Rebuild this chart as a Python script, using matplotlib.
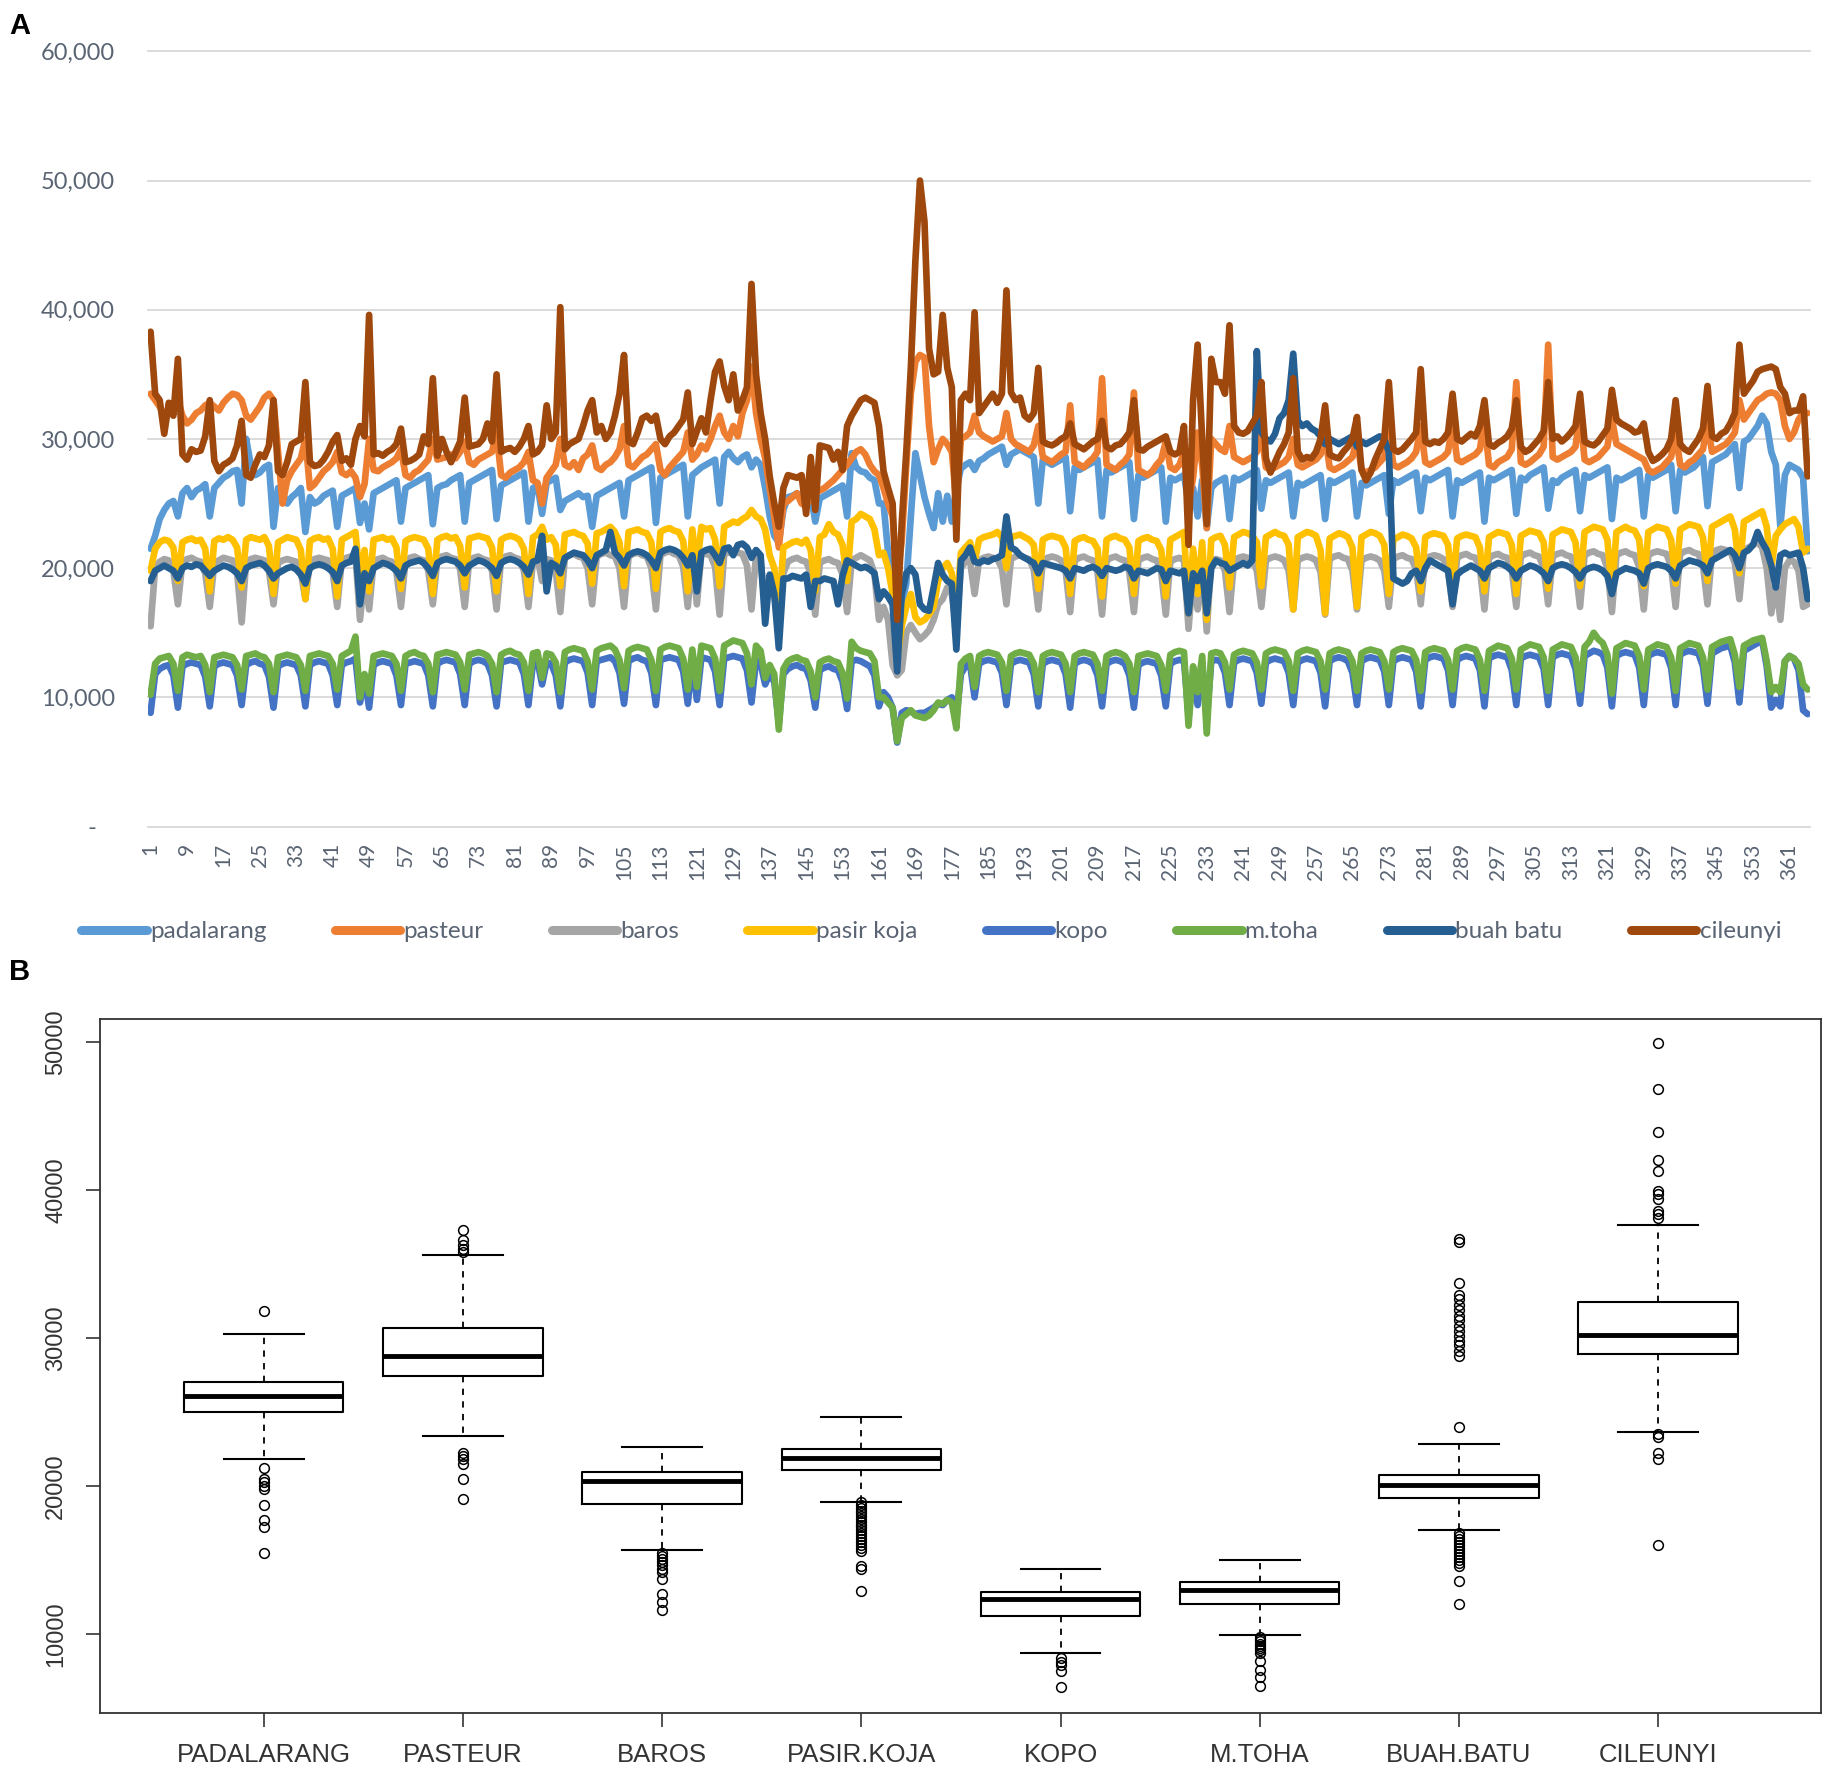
import matplotlib.pyplot as plt
import numpy as np

plt.rcParams['font.family'] = ['Lato', 'DejaVu Sans']

# daily traffic per toll gate, day 1..365, in hundreds of vehicles (one week per row)
padalarang = [
    215, 225, 238, 245, 250, 252, 240,
    258, 262, 255, 260, 262, 265, 240,
    262, 266, 270, 272, 275, 276, 250,
    300, 280, 272, 274, 278, 280, 232,
    262, 258, 250, 255, 258, 262, 228,
    255, 250, 252, 256, 258, 260, 232,
    256, 258, 260, 262, 235, 250, 230,
    258, 260, 262, 264, 266, 268, 236,
    262, 264, 266, 268, 270, 272, 234,
    262, 264, 265, 268, 270, 272, 236,
    266, 268, 270, 272, 274, 276, 238,
    264, 266, 268, 270, 272, 274, 236,
    262, 264, 242, 266, 268, 270, 245,
    252, 254, 256, 258, 255, 256, 232,
    256, 258, 260, 262, 264, 266, 240,
    268, 270, 272, 274, 276, 278, 235,
    270, 272, 274, 276, 278, 280, 240,
    272, 275, 278, 280, 282, 284, 250,
    286, 290, 285, 282, 286, 288, 278,
    284, 280, 262, 240, 225, 220, 245,
    255, 256, 258, 254, 256, 258, 236,
    254, 256, 258, 260, 262, 264, 240,
    289, 278, 275, 274, 270, 268, 250,
    250, 212, 201, 156, 172, 188, 240,
    289, 272, 255, 242, 231, 258, 236,
    256, 236, 262, 277, 280, 282, 276,
    283, 285, 288, 290, 292, 294, 280,
    288, 290, 292, 290, 288, 286, 250,
    284, 282, 280, 282, 284, 286, 244,
    278, 276, 278, 280, 282, 284, 240,
    276, 274, 276, 278, 280, 282, 238,
    272, 270, 272, 274, 276, 278, 236,
    270, 268, 270, 272, 250, 262, 240,
    268, 231, 262, 266, 268, 270, 238,
    270, 268, 270, 272, 274, 276, 246,
    268, 266, 268, 270, 272, 274, 240,
    266, 264, 266, 268, 270, 272, 238,
    268, 266, 268, 270, 272, 274, 240,
    266, 264, 266, 268, 270, 272, 242,
    268, 266, 268, 270, 272, 274, 244,
    270, 268, 270, 272, 274, 276, 240,
    268, 266, 268, 270, 272, 274, 236,
    270, 268, 270, 272, 274, 276, 242,
    270, 268, 272, 274, 276, 278, 246,
    268, 266, 270, 272, 274, 276, 244,
    272, 270, 272, 274, 276, 278, 238,
    270, 268, 270, 272, 274, 276, 240,
    272, 270, 272, 274, 276, 280, 244,
    276, 274, 276, 278, 282, 286, 248,
    282, 284, 286, 288, 292, 296, 262,
    298, 300, 305, 310, 318, 312, 290,
    280, 232, 272, 280, 278, 276, 270,
    213]

pasteur = [
    335, 330, 325, 318, 322, 328, 330,
    318, 312, 315, 320, 322, 326, 328,
    325, 322, 328, 332, 335, 334, 330,
    318, 315, 320, 325, 332, 335, 330,
    290, 250, 268, 275, 280, 285, 300,
    262, 265, 270, 275, 278, 282, 290,
    274, 272, 275, 270, 255, 265, 300,
    276, 275, 278, 280, 282, 285, 292,
    272, 270, 274, 276, 280, 284, 300,
    284, 285, 286, 288, 285, 290, 298,
    282, 280, 284, 286, 288, 290, 305,
    272, 270, 274, 276, 278, 282, 290,
    268, 266, 250, 270, 275, 280, 300,
    280, 278, 282, 276, 285, 288, 295,
    278, 276, 280, 282, 286, 292, 310,
    280, 278, 282, 286, 288, 292, 296,
    276, 272, 278, 282, 286, 290, 305,
    284, 288, 295, 292, 300, 310, 318,
    305, 300, 310, 302, 320, 330, 356,
    320, 300, 285, 262, 240, 216, 250,
    252, 255, 258, 250, 248, 255, 262,
    260, 262, 265, 268, 272, 276, 280,
    285, 290, 292, 288, 280, 275, 272,
    262, 250, 240, 191, 221, 280, 335,
    360, 365, 363, 310, 282, 292, 300,
    296, 290, 250, 300, 302, 305, 318,
    305, 302, 300, 298, 300, 302, 320,
    300, 296, 294, 292, 290, 295, 310,
    286, 284, 282, 285, 288, 290, 326,
    282, 280, 278, 282, 285, 290, 347,
    280, 278, 276, 280, 283, 288, 336,
    276, 274, 272, 275, 280, 284, 298,
    278, 276, 280, 290, 250, 270, 305,
    280, 231, 300, 296, 292, 290, 310,
    286, 284, 282, 284, 286, 290, 305,
    278, 276, 278, 280, 282, 286, 300,
    280, 278, 280, 282, 284, 288, 302,
    278, 276, 278, 280, 283, 286, 300,
    276, 274, 276, 278, 282, 286, 305,
    280, 278, 280, 282, 285, 290, 310,
    282, 280, 282, 284, 286, 290, 312,
    284, 282, 284, 286, 288, 292, 314,
    280, 278, 282, 284, 286, 292, 344,
    282, 280, 282, 285, 288, 294, 373,
    286, 284, 286, 288, 290, 294, 320,
    284, 282, 284, 286, 290, 294, 316,
    296, 294, 292, 290, 288, 286, 284,
    276, 274, 276, 278, 282, 286, 305,
    280, 278, 282, 284, 288, 292, 312,
    290, 292, 294, 296, 300, 305, 330,
    315, 320, 325, 330, 332, 335, 336,
    335, 330, 310, 300, 305, 315, 320,
    320]

baros = [
    155, 200, 205, 207, 206, 198, 172,
    205, 207, 208, 206, 205, 196, 170,
    204, 206, 208, 207, 206, 197, 158,
    205, 207, 208, 207, 206, 198, 172,
    204, 206, 207, 206, 205, 197, 176,
    205, 207, 208, 207, 206, 197, 170,
    206, 208, 209, 210, 160, 196, 168,
    205, 207, 208, 206, 205, 197, 170,
    206, 208, 209, 207, 206, 198, 172,
    207, 209, 210, 208, 207, 199, 170,
    206, 208, 209, 207, 206, 198, 168,
    207, 209, 210, 208, 207, 198, 170,
    206, 208, 190, 207, 206, 198, 166,
    208, 210, 211, 209, 208, 200, 172,
    209, 211, 212, 210, 209, 200, 170,
    209, 211, 212, 210, 209, 200, 168,
    210, 212, 213, 211, 210, 201, 170,
    210, 172, 212, 211, 210, 201, 164,
    211, 212, 213, 212, 211, 202, 168,
    210, 206, 170, 190, 180, 150, 196,
    205, 207, 208, 206, 205, 196, 164,
    204, 206, 207, 205, 204, 195, 166,
    206, 208, 210, 208, 206, 196, 160,
    170, 160, 125, 117, 121, 150, 156,
    150, 145, 148, 152, 160, 172, 176,
    185, 180, 154, 200, 205, 206, 180,
    206, 208, 209, 208, 207, 200, 172,
    207, 209, 210, 208, 207, 199, 168,
    206, 208, 209, 208, 206, 198, 166,
    206, 208, 209, 207, 206, 197, 164,
    206, 208, 209, 207, 206, 197, 166,
    206, 208, 209, 207, 206, 197, 164,
    205, 207, 208, 206, 153, 196, 168,
    204, 151, 206, 207, 206, 198, 166,
    206, 208, 209, 208, 206, 198, 170,
    206, 208, 209, 208, 206, 198, 168,
    206, 208, 209, 208, 206, 197, 164,
    207, 209, 210, 208, 207, 198, 168,
    206, 208, 209, 208, 206, 198, 170,
    207, 209, 210, 208, 207, 199, 172,
    207, 209, 210, 209, 207, 199, 170,
    208, 210, 211, 209, 208, 200, 168,
    208, 210, 211, 209, 208, 199, 170,
    209, 211, 212, 210, 209, 200, 172,
    209, 211, 212, 210, 209, 200, 170,
    210, 212, 213, 211, 210, 200, 166,
    210, 212, 213, 211, 210, 201, 168,
    210, 212, 213, 212, 211, 201, 170,
    211, 213, 214, 212, 211, 202, 172,
    212, 214, 215, 214, 213, 204, 176,
    214, 216, 218, 220, 216, 200, 165,
    190, 160, 200, 206, 205, 198, 170,
    172]

pasir_koja = [
    198, 215, 220, 222, 221, 216, 190,
    220, 222, 223, 221, 222, 215, 182,
    221, 223, 222, 224, 222, 216, 185,
    222, 224, 223, 222, 224, 217, 180,
    220, 222, 224, 223, 222, 214, 176,
    221, 223, 224, 222, 223, 215, 178,
    222, 224, 226, 228, 190, 214, 182,
    222, 223, 224, 222, 223, 216, 184,
    221, 223, 224, 223, 222, 215, 180,
    222, 224, 225, 223, 224, 217, 185,
    223, 224, 225, 224, 223, 216, 182,
    222, 224, 225, 224, 222, 215, 180,
    224, 226, 232, 222, 224, 218, 186,
    226, 227, 228, 226, 225, 219, 188,
    227, 228, 230, 232, 228, 220, 186,
    228, 229, 230, 228, 227, 220, 184,
    228, 230, 231, 229, 228, 221, 182,
    230, 200, 232, 230, 231, 222, 186,
    232, 234, 236, 235, 238, 240, 245,
    240, 238, 230, 210, 200, 165, 216,
    218, 220, 221, 219, 222, 214, 182,
    224, 226, 234, 228, 226, 218, 190,
    236, 238, 242, 240, 238, 230, 210,
    212, 200, 180, 130, 155, 170, 180,
    162, 158, 160, 164, 170, 190, 200,
    204, 196, 165, 212, 216, 220, 205,
    222, 224, 225, 226, 228, 224, 200,
    224, 225, 226, 224, 222, 218, 184,
    222, 224, 225, 224, 223, 216, 180,
    221, 223, 224, 222, 221, 215, 178,
    222, 224, 225, 223, 222, 216, 180,
    221, 223, 224, 222, 221, 214, 178,
    222, 224, 226, 228, 165, 215, 180,
    220, 160, 222, 224, 225, 218, 185,
    224, 226, 228, 227, 225, 220, 186,
    224, 226, 228, 226, 225, 218, 168,
    224, 226, 228, 227, 225, 214, 165,
    223, 225, 227, 226, 224, 216, 170,
    224, 226, 228, 227, 225, 218, 180,
    222, 224, 226, 225, 223, 216, 182,
    224, 226, 227, 226, 225, 218, 184,
    223, 225, 226, 225, 224, 216, 182,
    224, 226, 228, 227, 226, 218, 180,
    225, 227, 229, 228, 227, 220, 184,
    226, 228, 230, 229, 228, 220, 186,
    228, 230, 232, 231, 230, 222, 182,
    228, 230, 232, 230, 229, 222, 186,
    228, 230, 232, 231, 230, 222, 188,
    230, 232, 234, 233, 232, 224, 190,
    232, 234, 236, 238, 240, 230, 196,
    236, 238, 240, 242, 244, 232, 200,
    225, 230, 234, 236, 238, 232, 212,
    215]

kopo = [
    88, 118, 122, 124, 125, 117, 92,
    124, 126, 127, 126, 125, 116, 93,
    124, 126, 127, 126, 125, 117, 94,
    125, 127, 128, 126, 125, 116, 92,
    124, 126, 127, 126, 125, 117, 93,
    125, 127, 128, 127, 126, 117, 94,
    125, 127, 128, 130, 96, 115, 92,
    125, 127, 128, 127, 126, 117, 94,
    126, 127, 128, 127, 126, 117, 93,
    126, 128, 129, 128, 127, 118, 94,
    126, 128, 129, 128, 126, 117, 93,
    127, 128, 129, 128, 127, 118, 94,
    127, 128, 110, 127, 126, 117, 93,
    127, 129, 130, 129, 128, 119, 94,
    128, 129, 130, 131, 128, 119, 95,
    128, 130, 131, 129, 128, 119, 94,
    129, 130, 131, 130, 129, 120, 95,
    129, 98, 131, 130, 129, 120, 94,
    130, 131, 132, 131, 130, 121, 96,
    129, 126, 110, 118, 112, 80, 118,
    122, 124, 125, 123, 122, 113, 92,
    121, 123, 124, 122, 121, 112, 91,
    128, 129, 128, 126, 124, 117, 93,
    104, 100, 92, 65, 88, 90, 89,
    87, 88, 88, 90, 92, 95, 94,
    98, 100, 84, 118, 124, 126, 100,
    126, 128, 129, 128, 127, 119, 94,
    126, 128, 129, 128, 127, 118, 93,
    126, 128, 129, 128, 127, 118, 92,
    126, 128, 129, 128, 126, 117, 93,
    126, 128, 129, 128, 126, 117, 92,
    125, 127, 128, 127, 126, 117, 93,
    126, 128, 129, 128, 86, 117, 94,
    126, 83, 128, 129, 128, 119, 94,
    127, 129, 130, 129, 128, 119, 95,
    127, 129, 130, 129, 128, 119, 94,
    127, 129, 130, 129, 128, 119, 93,
    128, 130, 131, 130, 128, 119, 94,
    128, 130, 131, 130, 129, 120, 94,
    128, 130, 131, 130, 129, 120, 93,
    129, 131, 132, 131, 130, 121, 94,
    129, 131, 132, 131, 130, 121, 93,
    130, 132, 133, 132, 131, 121, 94,
    130, 132, 133, 132, 131, 122, 94,
    131, 133, 134, 133, 132, 122, 95,
    132, 134, 136, 135, 133, 123, 93,
    132, 134, 135, 134, 133, 123, 94,
    132, 134, 135, 134, 133, 123, 94,
    133, 135, 136, 135, 134, 124, 95,
    134, 136, 138, 139, 140, 127, 96,
    136, 138, 140, 142, 144, 124, 92,
    98, 93, 128, 132, 130, 121, 90,
    87]

m_toha = [
    102, 126, 130, 131, 132, 126, 105,
    131, 133, 132, 131, 132, 125, 104,
    131, 132, 133, 132, 131, 125, 106,
    132, 133, 134, 132, 131, 126, 104,
    131, 132, 133, 132, 131, 125, 105,
    132, 133, 134, 133, 132, 126, 106,
    132, 134, 136, 147, 100, 118, 103,
    132, 133, 134, 133, 132, 126, 105,
    132, 134, 135, 133, 132, 126, 104,
    133, 134, 135, 134, 133, 127, 106,
    133, 134, 135, 134, 132, 126, 104,
    133, 135, 136, 134, 133, 127, 105,
    134, 135, 115, 134, 133, 127, 104,
    135, 137, 138, 137, 136, 128, 106,
    136, 138, 139, 140, 137, 129, 107,
    136, 138, 139, 138, 137, 129, 105,
    137, 139, 140, 139, 138, 130, 106,
    137, 108, 140, 139, 138, 130, 105,
    140, 142, 144, 143, 142, 134, 110,
    140, 136, 115, 125, 118, 75, 122,
    128, 130, 131, 129, 128, 120, 100,
    127, 129, 130, 128, 127, 119, 99,
    143, 138, 136, 135, 134, 128, 100,
    100, 96, 92, 66, 84, 87, 90,
    86, 85, 84, 86, 90, 96, 95,
    98, 96, 76, 126, 130, 132, 108,
    132, 134, 135, 134, 133, 127, 105,
    132, 134, 135, 134, 133, 126, 104,
    132, 134, 135, 134, 133, 126, 104,
    132, 134, 135, 134, 133, 126, 105,
    132, 134, 135, 134, 132, 126, 104,
    132, 133, 134, 133, 132, 125, 105,
    133, 135, 136, 135, 78, 124, 104,
    132, 72, 134, 135, 134, 127, 106,
    133, 135, 136, 135, 134, 127, 106,
    134, 136, 137, 136, 135, 128, 105,
    134, 136, 137, 136, 135, 128, 106,
    134, 136, 137, 136, 135, 128, 105,
    134, 136, 137, 136, 135, 128, 106,
    135, 137, 138, 137, 136, 129, 105,
    135, 137, 138, 137, 136, 129, 106,
    136, 138, 139, 138, 137, 129, 105,
    136, 138, 140, 139, 138, 130, 106,
    137, 139, 141, 140, 139, 131, 105,
    137, 139, 141, 140, 139, 131, 106,
    139, 143, 150, 145, 142, 133, 103,
    138, 140, 142, 141, 140, 132, 106,
    137, 139, 141, 140, 139, 131, 105,
    138, 140, 142, 141, 140, 131, 106,
    139, 141, 143, 144, 145, 133, 108,
    140, 142, 144, 145, 146, 128, 104,
    108, 104, 128, 132, 130, 126, 110,
    106]

buah_batu = [
    190, 198, 200, 202, 200, 198, 192,
    200, 202, 201, 203, 202, 198, 194,
    198, 200, 202, 201, 199, 196, 190,
    200, 202, 203, 204, 202, 198, 192,
    196, 198, 200, 201, 199, 195, 188,
    200, 202, 203, 202, 200, 197, 190,
    202, 204, 205, 215, 172, 196, 190,
    200, 202, 204, 203, 201, 198, 192,
    202, 204, 205, 206, 204, 200, 194,
    204, 206, 207, 206, 205, 202, 196,
    202, 204, 206, 205, 203, 200, 194,
    204, 206, 207, 206, 204, 201, 195,
    205, 206, 225, 182, 204, 202, 196,
    208, 210, 212, 211, 210, 206, 200,
    210, 212, 214, 228, 212, 208, 202,
    210, 212, 213, 212, 210, 206, 200,
    212, 214, 215, 214, 212, 208, 202,
    210, 182, 212, 214, 215, 210, 204,
    215, 216, 210, 218, 219, 216, 208,
    214, 210, 157, 195, 180, 138, 192,
    192, 194, 193, 192, 195, 170, 190,
    190, 192, 191, 190, 172, 194, 206,
    204, 202, 200, 201, 199, 196, 176,
    182, 178, 172, 120, 180, 196, 200,
    195, 172, 168, 167, 185, 204, 195,
    190, 188, 137, 206, 210, 216, 205,
    204, 206, 205, 207, 208, 210, 240,
    216, 214, 210, 208, 206, 204, 196,
    204, 203, 202, 201, 200, 198, 192,
    200, 199, 198, 200, 201, 199, 194,
    200, 199, 198, 199, 201, 200, 192,
    198, 197, 196, 198, 200, 199, 190,
    198, 197, 196, 198, 165, 196, 190,
    198, 165, 200, 206, 204, 203, 198,
    200, 202, 204, 202, 206, 368, 305,
    300, 298, 304, 316, 320, 330, 366,
    314, 310, 312, 308, 306, 302, 296,
    300, 298, 296, 298, 300, 302, 294,
    298, 296, 298, 300, 302, 300, 290,
    192, 190, 188, 190, 196, 198, 190,
    200, 206, 204, 202, 200, 198, 172,
    195, 198, 200, 202, 200, 198, 192,
    200, 202, 204, 203, 201, 198, 192,
    198, 200, 202, 201, 199, 196, 190,
    200, 202, 203, 202, 200, 197, 192,
    198, 200, 201, 200, 198, 194, 180,
    196, 198, 200, 199, 198, 196, 188,
    200, 202, 203, 202, 201, 198, 192,
    202, 204, 206, 205, 204, 202, 196,
    206, 208, 210, 212, 214, 210, 200,
    212, 214, 218, 228, 220, 214, 202,
    185, 210, 212, 210, 211, 212, 200,
    176]

cileunyi = [
    383, 335, 330, 304, 328, 318, 362,
    288, 284, 292, 290, 291, 302, 330,
    283, 275, 280, 282, 285, 295, 314,
    272, 270, 280, 288, 286, 295, 330,
    275, 272, 282, 296, 298, 300, 344,
    282, 279, 280, 284, 290, 298, 303,
    283, 285, 280, 300, 310, 302, 396,
    288, 289, 287, 290, 292, 296, 308,
    282, 283, 285, 288, 302, 296, 347,
    287, 300, 290, 282, 290, 298, 332,
    294, 295, 296, 300, 312, 298, 350,
    290, 292, 293, 290, 294, 300, 310,
    288, 290, 295, 326, 300, 305, 402,
    292, 296, 298, 300, 310, 322, 330,
    305, 310, 300, 305, 318, 335, 365,
    298, 296, 305, 316, 318, 314, 318,
    300, 296, 302, 305, 310, 315, 336,
    296, 306, 316, 305, 330, 352, 360,
    341, 330, 350, 322, 330, 340, 420,
    350, 320, 300, 271, 250, 232, 262,
    272, 271, 270, 272, 242, 286, 245,
    295, 294, 293, 284, 290, 276, 310,
    318, 324, 330, 332, 330, 328, 310,
    275, 262, 250, 160, 235, 290, 355,
    438, 500, 468, 370, 350, 352, 396,
    355, 340, 222, 330, 335, 330, 398,
    320, 325, 330, 335, 328, 335, 415,
    336, 330, 332, 318, 315, 320, 355,
    298, 296, 295, 297, 300, 302, 312,
    296, 294, 292, 295, 298, 300, 314,
    294, 292, 295, 296, 300, 305, 330,
    292, 291, 294, 296, 298, 300, 302,
    290, 288, 290, 310, 218, 330, 373,
    300, 234, 362, 344, 344, 335, 388,
    310, 305, 304, 306, 312, 318, 344,
    285, 274, 282, 290, 296, 305, 347,
    290, 284, 286, 285, 290, 300, 326,
    288, 286, 285, 290, 294, 300, 317,
    276, 268, 274, 284, 292, 300, 344,
    292, 290, 292, 296, 300, 305, 354,
    298, 296, 298, 297, 300, 305, 335,
    300, 298, 301, 304, 302, 310, 330,
    296, 294, 297, 299, 302, 308, 330,
    294, 290, 292, 296, 300, 306, 344,
    300, 302, 298, 301, 305, 310, 335,
    298, 296, 295, 298, 303, 308, 338,
    315, 312, 310, 308, 305, 306, 312,
    290, 283, 285, 288, 292, 300, 330,
    296, 292, 290, 295, 300, 308, 341,
    302, 300, 304, 306, 312, 320, 373,
    335, 340, 345, 352, 354, 355, 356,
    354, 340, 335, 320, 322, 322, 333,
    271]

names = ['padalarang', 'pasteur', 'baros', 'pasir koja', 'kopo', 'm.toha', 'buah batu', 'cileunyi']
colors = ['#5B9BD5', '#ED7D31', '#A5A5A5', '#FFC000', '#4472C4', '#70AD47', '#255E91', '#9E480E']

# panel B: boxplot summary per gate
box_labels = ['PADALARANG', 'PASTEUR', 'BAROS', 'PASIR.KOJA', 'KOPO', 'M.TOHA', 'BUAH.BATU', 'CILEUNYI']
box_whislo = [21800, 23400, 15700, 18950, 8700, 9950, 17000, 23650]
box_q1 = [25000, 27400, 18800, 21050, 11250, 12050, 19200, 28900]
box_med = [26100, 28750, 20350, 21900, 12400, 12950, 20100, 30200]
box_q3 = [27050, 30700, 20950, 22500, 12850, 13550, 20750, 32450]
box_whishi = [30300, 35600, 22650, 24650, 14400, 15000, 22850, 37600]
box_fliers = [
    [31800, 21200, 20500, 20300, 20000, 19800, 18700, 17700, 17200, 15500],
    [37300, 36600, 36300, 36000, 35800, 22200, 22000, 21800, 21500, 20500, 19100],
    [15500, 15300, 15100, 14900, 14700, 14400, 14200, 13700, 12700, 12200, 11600],
    [18900, 18700, 18500, 18300, 18150, 18000, 17800, 17600, 17400, 17200, 17000,
     16800, 16600, 16400, 16200, 16000, 15800, 15600, 14600, 14400, 12900],
    [8400, 8100, 7900, 7500, 6400],
    [9800, 9650, 9500, 9350, 9200, 9050, 8900, 8700, 8200, 7600, 7100, 6500],
    [36700, 36500, 33700, 32900, 32600, 32200, 31900, 31500, 31200, 30800, 30500,
     30100, 29800, 29500, 29100, 28800, 24000, 16800, 16600, 16400, 16200, 16000,
     15800, 15600, 15400, 15200, 15000, 14800, 14600, 13600, 12000],
    [49900, 46800, 43900, 42000, 41300, 39900, 39700, 39400, 38600, 38400, 38100,
     23500, 23300, 22200, 21800, 16000],
]

txt = '#5A6473'
fig = plt.figure(figsize=(18.31, 17.71), dpi=100)

# ---------------- panel A : daily lines ----------------
ax = fig.add_axes([0.081, 0.5333, 0.9075, 0.4377])
series = [padalarang, pasteur, baros, pasir_koja, kopo, m_toha, buah_batu, cileunyi]
for s, n, c in zip(series, names, colors):
    y = np.array(s) * 100
    ax.plot(np.arange(1, len(y) + 1), y, color=c, lw=4.8, label=n,
            solid_joinstyle='round', solid_capstyle='round')

yt = np.arange(0, 60001, 10000)
for v in yt:
    ax.axhline(v, color='#D9D9D9', lw=1.3, zorder=0, clip_on=False)
ax.set_xlim(0.5, 365.5)
ax.set_ylim(0, 60000)
ax.set_yticks(yt)
ax.set_yticklabels(['-   '] + [f'{int(v):,}' for v in yt[1:]], fontsize=17, color=txt)
days = np.arange(1, 366)
ax.set_xticks(days[::8])
ax.set_xticklabels([str(d) for d in days[::8]], rotation=90, fontsize=15, color=txt)
ax.tick_params(axis='y', length=0, pad=24)
ax.tick_params(axis='x', length=0, pad=12)
for sp in ax.spines.values():
    sp.set_visible(False)

leg = fig.legend(loc='center', bbox_to_anchor=(0.5086, 0.474), ncol=8, frameon=False,
                 fontsize=17.5, handlelength=2.7, handletextpad=0.13, columnspacing=2.8,
                 labelcolor=txt)
for h in leg.legend_handles:
    h.set_linewidth(6.5)

# ---------------- panel B : boxplots ----------------
bx = fig.add_axes([0.0548, 0.033, 0.940, 0.3915])
stats = []
for i in range(len(box_labels)):
    stats.append(dict(label=box_labels[i], whislo=box_whislo[i], q1=box_q1[i], med=box_med[i],
                      q3=box_q3[i], whishi=box_whishi[i], fliers=box_fliers[i]))
bx.bxp(stats, positions=range(1, 9), widths=0.8, capwidths=0.4,
       boxprops=dict(color='black', lw=1.5),
       medianprops=dict(color='black', lw=3.5),
       whiskerprops=dict(color='black', lw=1.3, linestyle=(0, (3.5, 3.5))),
       capprops=dict(color='black', lw=1.5),
       flierprops=dict(marker='o', markerfacecolor='none', markeredgecolor='black',
                       markersize=7, markeredgewidth=1.1))
bx.set_xlim(0.18, 8.82)
bx.set_ylim(4700, 51530)
bt = [10000, 20000, 30000, 40000, 50000]
bx.set_yticks(bt)
bx.set_yticklabels([str(v) for v in bt], rotation=90, va='center',
                   fontsize=17, family='Liberation Sans', color='#333333')
bx.set_xticks(range(1, 9))
bx.set_xticklabels(box_labels, fontsize=18.5, family='Liberation Sans', color='#333333')
bx.tick_params(direction='out', length=10, width=1.2, color='#333333')
bx.tick_params(axis='y', pad=14)
bx.tick_params(axis='x', pad=12)
for sp in bx.spines.values():
    sp.set_color('#333333')
    sp.set_linewidth(1.3)

fig.text(0.005, 0.993, 'A', fontsize=21, fontweight='bold', family='Liberation Sans', va='top')
fig.text(0.005, 0.459, 'B', fontsize=21, fontweight='bold', family='Liberation Sans', va='top')

fig.savefig('out.png', dpi=100)
